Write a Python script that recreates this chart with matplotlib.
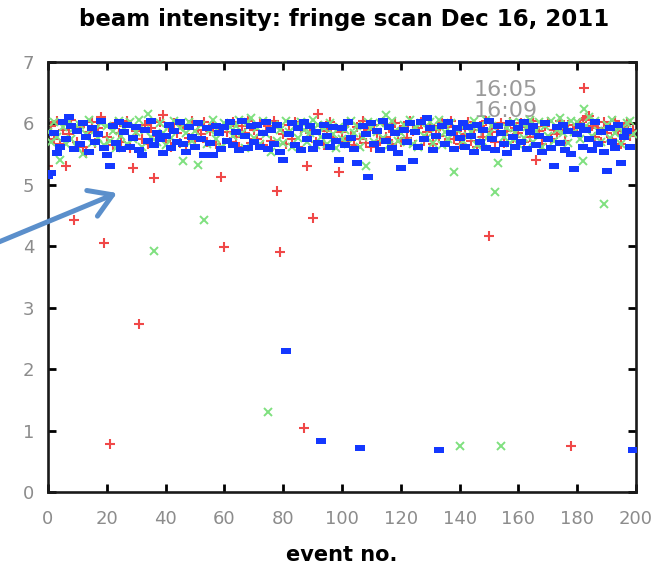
#!/usr/bin/python3
# -*- coding: utf-8 -*-
import matplotlib
matplotlib.use('Agg')
import matplotlib.pyplot as plt
import numpy as np
from matplotlib import rcParams

rcParams.update({
    'font.family': 'sans-serif',
    'font.sans-serif': ['DejaVu Sans'],
})

title = 'beam intensity: fringe scan Dec 16, 2011'
run_labels = ['16:05', '16:09', '16:13']

# beam intensity per event, one list per scan
intensity_1605 = [
    5.30, 5.96, 5.74, 6.04, 5.66, 5.90, 5.30, 5.82, 6.06, 4.43, 5.70, 5.94, 5.62, 5.52, 5.86, 6.02, 5.68, 5.92, 6.10, 4.06,
    5.78, 0.78, 5.64, 6.00, 5.84, 5.70, 5.96, 6.04, 5.60, 5.28, 5.88, 2.74, 5.74, 5.98, 5.66, 5.92, 5.11, 5.80, 6.02, 6.14,
    5.72, 5.94, 5.62, 6.00, 5.84, 5.68, 5.96, 5.57, 5.76, 6.04, 5.64, 5.90, 5.82, 6.02, 5.70, 5.88, 5.98, 5.66, 5.92, 5.13,
    3.99, 5.86, 5.70, 6.02, 5.78, 5.62, 5.96, 5.84, 6.04, 5.68, 5.90, 5.74, 6.00, 5.64, 5.88, 5.96, 5.72, 6.04, 4.90, 3.91,
    5.82, 5.66, 5.98, 5.74, 6.02, 5.62, 5.90, 1.04, 5.30, 5.84, 4.46, 5.70, 6.15, 5.96, 5.64, 5.88, 6.02, 5.76, 5.92, 5.21,
    5.86, 5.70, 6.00, 5.80, 5.64, 5.94, 5.74, 6.04, 5.68, 5.90, 5.62, 5.98, 5.84, 5.72, 6.02, 5.78, 5.92, 5.66, 6.00, 5.82,
    5.70, 5.96, 5.76, 6.04, 5.88, 5.64, 5.92, 6.02, 5.72, 5.86, 5.98, 5.66, 5.90, 5.80, 6.00, 5.68, 5.94, 6.04, 5.74, 5.88,
    5.66, 5.98, 5.82, 6.02, 5.72, 5.90, 5.62, 5.96, 5.78, 6.04, 4.17, 5.86, 5.70, 5.94, 6.00, 5.68, 5.88, 6.02, 5.76, 5.92,
    5.84, 6.00, 5.70, 5.94, 5.78, 6.04, 5.40, 5.88, 5.66, 5.96, 6.02, 5.74, 5.90, 5.82, 6.04, 5.92, 5.72, 5.98, 0.75, 5.86,
    5.94, 6.00, 6.06, 6.09, 6.12, 5.96, 5.78, 5.92, 5.70, 6.02, 5.84, 5.96, 5.74, 6.04, 5.88, 5.66, 5.94, 6.00, 5.80, 5.90,
]

intensity_1609 = [
    5.86, 5.70, 6.02, 5.78, 5.40, 5.94, 5.66, 6.04, 5.74, 5.92, 5.62, 5.98, 5.50, 5.82, 6.06, 5.68, 5.90, 5.76, 6.00, 5.64,
    5.96, 5.72, 5.88, 5.60, 6.04, 5.80, 5.92, 5.66, 6.02, 5.74, 5.86, 6.06, 5.62, 5.90, 6.15, 5.78, 3.92, 5.70, 6.00, 5.84,
    5.64, 5.96, 5.76, 6.04, 5.68, 5.92, 5.38, 5.84, 6.02, 5.72, 5.88, 5.33, 5.98, 4.42, 5.66, 5.90, 6.06, 5.74, 5.86, 5.62,
    6.00, 5.70, 5.94, 5.80, 5.96, 6.06, 5.84, 5.60, 6.02, 6.09, 5.76, 5.92, 5.66, 6.04, 5.82, 1.30, 5.54, 5.98, 5.72, 5.90,
    5.68, 6.04, 5.86, 5.62, 5.96, 5.76, 6.02, 5.90, 5.70, 5.84, 6.06, 5.64, 5.98, 5.78, 5.92, 5.66, 6.00, 5.82, 5.60, 5.94,
    5.74, 5.90, 5.66, 6.04, 5.84, 5.96, 5.62, 5.78, 5.30, 6.02, 5.92, 5.70, 5.86, 6.00, 5.76, 6.14, 5.64, 6.04, 5.88, 5.72,
    5.84, 5.98, 5.70, 6.06, 5.66, 5.94, 5.62, 6.00, 5.80, 5.76, 6.02, 5.68, 5.92, 6.06, 5.64, 5.86, 5.74, 6.00, 5.21, 5.90,
    0.75, 5.72, 5.98, 5.80, 5.86, 6.04, 5.64, 5.94, 5.70, 6.06, 5.82, 5.96, 4.89, 5.35, 0.75, 5.78, 5.92, 5.68, 6.02, 5.84,
    5.66, 6.00, 5.76, 5.94, 6.06, 5.70, 5.88, 6.02, 5.62, 5.96, 5.80, 6.04, 5.72, 5.90, 6.08, 5.84, 5.98, 5.68, 6.04, 5.86,
    6.02, 5.74, 5.39, 5.96, 6.10, 5.80, 6.04, 5.88, 5.70, 4.69, 5.98, 5.76, 6.06, 5.84, 5.94, 5.66, 5.90, 6.00, 6.04, 5.82,
]

intensity_1613 = [
    5.15, 5.20, 5.84, 5.52, 5.62, 6.02, 5.74, 6.10, 5.96, 5.58, 5.88, 5.66, 6.00, 5.78, 5.54, 5.92, 5.70, 5.82, 6.04, 5.60,
    5.49, 5.30, 5.96, 5.68, 6.02, 5.58, 5.86, 5.98, 5.62, 5.76, 5.94, 5.56, 5.49, 5.90, 5.72, 6.04, 5.64, 5.84, 5.74, 5.52,
    5.80, 5.98, 5.60, 5.88, 5.70, 6.02, 5.66, 5.54, 5.94, 5.78, 5.62, 6.00, 5.74, 5.49, 5.92, 5.68, 5.49, 5.96, 5.84, 5.58,
    5.94, 5.72, 6.02, 5.64, 5.86, 5.56, 6.04, 5.80, 5.60, 5.96, 5.70, 5.98, 5.62, 5.84, 6.02, 5.58, 5.90, 5.66, 5.98, 5.54,
    5.40, 2.30, 5.82, 6.00, 5.64, 5.92, 5.56, 6.02, 5.74, 5.96, 5.58, 5.86, 5.68, 0.83, 5.98, 5.80, 5.62, 5.94, 5.72, 5.40,
    5.92, 5.64, 6.02, 5.76, 5.58, 5.36, 0.71, 5.96, 5.82, 5.12, 6.00, 5.66, 5.88, 5.56, 6.04, 5.72, 5.94, 5.60, 5.84, 5.52,
    5.28, 5.90, 5.70, 6.00, 5.38, 5.86, 5.62, 6.02, 5.74, 6.09, 5.92, 5.56, 5.80, 0.69, 5.96, 5.66, 6.02, 5.84, 5.58, 5.92,
    5.76, 6.00, 5.62, 5.94, 5.80, 5.54, 5.98, 5.70, 5.90, 5.60, 6.04, 5.74, 5.56, 5.96, 5.84, 5.66, 5.52, 6.00, 5.78, 5.62,
    5.92, 5.70, 6.02, 5.58, 5.86, 5.96, 5.64, 5.80, 5.54, 6.00, 5.74, 5.60, 5.30, 5.94, 5.68, 5.98, 5.56, 5.88, 5.50, 5.26,
    5.82, 5.96, 5.62, 5.90, 5.74, 5.56, 6.02, 5.66, 5.86, 5.54, 5.22, 5.92, 5.70, 5.60, 5.98, 5.36, 5.78, 5.88, 5.62, 0.69,
]

x_ticks = [0, 20, 40, 60, 80, 100, 120, 140, 160, 180, 200]
y_ticks = [0, 1, 2, 3, 4, 5, 6, 7]

event = np.arange(len(intensity_1605))

fig = plt.figure(figsize=(6.69, 5.75), dpi=100)
ax = fig.add_axes([0.0717, 0.1443, 0.879, 0.748])

# gnuplot-ish point types: plus, cross, filled box
box = [(-1.4, -0.8), (1.4, -0.8), (1.4, 0.8), (-1.4, 0.8)]
ax.plot(event, intensity_1605, linestyle='none', marker='+', markersize=7,
        markeredgewidth=1.5, color='#f04848', label=run_labels[0], zorder=2)
ax.plot(event, intensity_1609, linestyle='none', marker='x', markersize=5.5,
        markeredgewidth=1.4, color='#7fe07f', label=run_labels[1], zorder=3)
ax.plot(event, intensity_1613, linestyle='none', marker=box, markersize=6.5,
        markeredgewidth=0, color='#1438ff', label=run_labels[2], zorder=4)

ax.set_xlim(0, 200)
ax.set_ylim(0, 7)
ax.set_xticks(x_ticks)
ax.set_yticks(y_ticks)

for side in ax.spines.values():
    side.set_linewidth(1.9)
    side.set_color('#1a1a1a')

ax.tick_params(axis='both', direction='in', length=6, width=2,
               top=True, right=True, labelcolor='#8c8c8c', labelsize=13)
ax.tick_params(axis='x', pad=13)
ax.tick_params(axis='y', pad=10)

ax.set_xlabel('event no.', fontsize=15, fontweight='bold', labelpad=12)
fig.text(0.514, 0.966, title, fontsize=16.5, fontweight='bold',
         ha='center', va='center')

# key sits behind the data points, as gnuplot draws it
leg = ax.legend(loc='upper right', bbox_to_anchor=(0.946, 0.958),
                frameon=False, markerfirst=False, fontsize=16,
                handlelength=1.8, handletextpad=1.2, labelspacing=0.05,
                borderpad=0, borderaxespad=0)
for t in leg.get_texts():
    t.set_color('#9a9a9a')
leg.set_zorder(1)

# pointer arrow coming in from the left edge
ax.annotate('', xy=(117, 382), xycoords='figure pixels',
            xytext=(-6, 331), textcoords='figure pixels',
            arrowprops=dict(arrowstyle='->,head_length=0.8,head_width=0.5',
                            color='#5b8fcb', lw=3.6, mutation_scale=20,
                            shrinkA=0, shrinkB=0),
            annotation_clip=False, zorder=10)

plt.savefig('out.png', dpi=100)
plt.close('all')
